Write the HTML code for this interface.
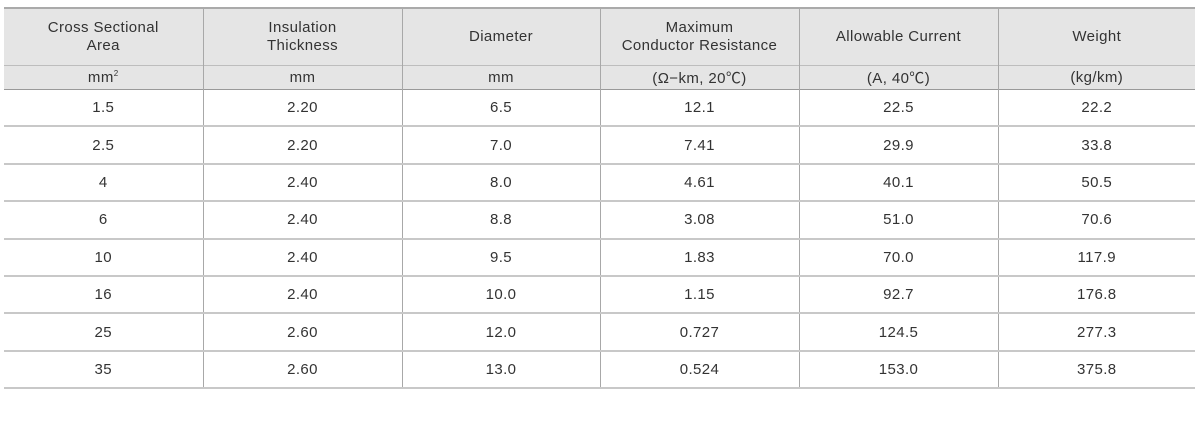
<!DOCTYPE html>
<html><head><meta charset="utf-8">
<style>
html,body{margin:0;padding:0;background:#fff;width:1200px;height:422px;overflow:hidden}
table{position:absolute;left:4px;top:7px;width:1191px;border-collapse:collapse;table-layout:fixed;font-family:"Liberation Sans","Noto Sans CJK KR",sans-serif;font-size:15px;letter-spacing:0.4px;color:#333}
td,th{text-align:center;vertical-align:middle;padding:0;font-weight:normal;border-left:1px solid #a8a8a8;border-right:1px solid #a8a8a8;white-space:nowrap}
td:first-child,th:first-child{border-left:none}
td:last-child,th:last-child{border-right:none}
thead tr{background:#e5e5e5}
tr.h1{height:57px;border-top:2px solid #aaa;border-bottom:1px solid #bdbdbd}
tr.h1 th{line-height:18px}
tr.h2{height:24px;border-bottom:1px solid #999}
tbody tr{height:37.4px;border-bottom:2px solid #c8c8c8}
</style></head><body>
<table>
<colgroup><col style="width:199px"><col style="width:199px"><col style="width:198px"><col style="width:199px"><col style="width:199px"><col style="width:197px"></colgroup>
<thead>
<tr class="h1">
<th>Cross Sectional<br>Area</th>
<th>Insulation<br>Thickness</th>
<th>Diameter</th>
<th>Maximum<br>Conductor Resistance</th>
<th>Allowable Current</th>
<th>Weight</th>
</tr>
<tr class="h2">
<th>mm<sup style="font-size:8px">2</sup></th>
<th>mm</th>
<th>mm</th>
<th>(Ω−km, 20℃)</th>
<th>(A, 40℃)</th>
<th>(kg/km)</th>
</tr>
</thead>
<tbody>
<tr><td>1.5</td><td>2.20</td><td>6.5</td><td>12.1</td><td>22.5</td><td>22.2</td></tr>
<tr><td>2.5</td><td>2.20</td><td>7.0</td><td>7.41</td><td>29.9</td><td>33.8</td></tr>
<tr><td>4</td><td>2.40</td><td>8.0</td><td>4.61</td><td>40.1</td><td>50.5</td></tr>
<tr><td>6</td><td>2.40</td><td>8.8</td><td>3.08</td><td>51.0</td><td>70.6</td></tr>
<tr><td>10</td><td>2.40</td><td>9.5</td><td>1.83</td><td>70.0</td><td>117.9</td></tr>
<tr><td>16</td><td>2.40</td><td>10.0</td><td>1.15</td><td>92.7</td><td>176.8</td></tr>
<tr><td>25</td><td>2.60</td><td>12.0</td><td>0.727</td><td>124.5</td><td>277.3</td></tr>
<tr><td>35</td><td>2.60</td><td>13.0</td><td>0.524</td><td>153.0</td><td>375.8</td></tr>
</tbody>
</table>
</body></html>
